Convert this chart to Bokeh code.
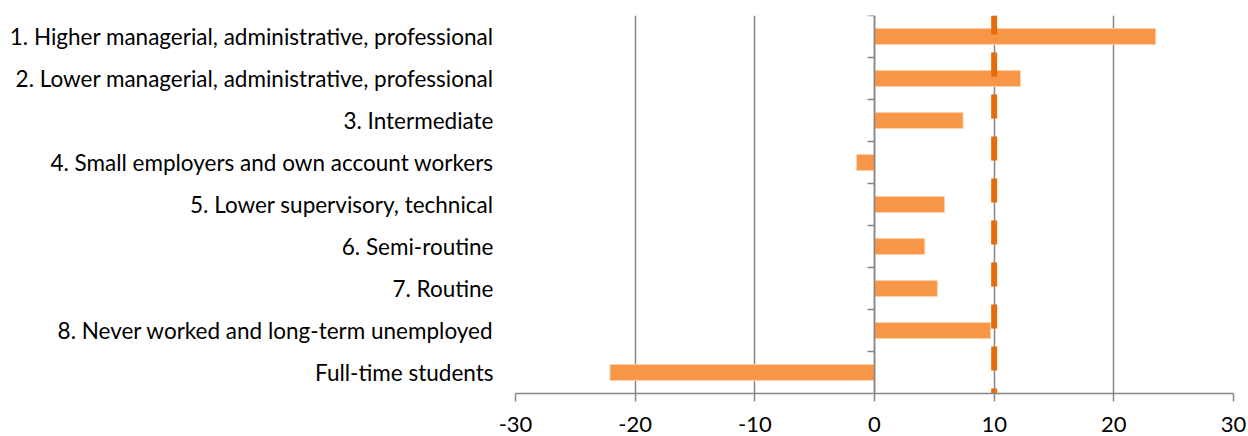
from bokeh.plotting import figure
from bokeh.models import Range1d, FixedTicker, Span
from bokeh.embed import file_html
from bokeh.resources import INLINE

categories = [
    "1. Higher managerial, administrative, professional",
    "2. Lower managerial, administrative, professional",
    "3. Intermediate",
    "4. Small employers and own account workers",
    "5. Lower supervisory, technical",
    "6. Semi-routine",
    "7. Routine",
    "8. Never worked and long-term unemployed",
    "Full-time students",
]
values = [23.5, 12.2, 7.4, -1.5, 5.85, 4.2, 5.25, 9.7, -22.1]
reference_line = 10
x_ticks = [-30, -20, -10, 0, 10, 20, 30]
x_tick_labels = ["-30", "-20", "-10", "0", "10", "20", "30"]

n = len(categories)
ypos = [n - 1 - i for i in range(n)]

FONT = "Lato"
GRAY = "#868686"

W, H = 1248, 436
LEFT, TOP = 515, 15
FRAME_W, FRAME_H = 718, 378

p = figure(width=W, height=H, output_backend="svg", toolbar_location=None,
           x_range=Range1d(x_ticks[0], x_ticks[-1]), y_range=Range1d(-0.5, n - 0.5),
           min_border_left=LEFT, min_border_top=TOP,
           min_border_right=W - LEFT - FRAME_W, min_border_bottom=H - TOP - FRAME_H)
p.outline_line_color = None
p.background_fill_color = "white"

# grid
p.ygrid.grid_line_color = None
p.xgrid.ticker = FixedTicker(ticks=x_ticks)
p.xgrid.grid_line_color = GRAY
p.xgrid.grid_line_width = 1.5

# x axis
p.xaxis.ticker = FixedTicker(ticks=x_ticks)
p.xaxis.major_label_overrides = {t: s for t, s in zip(x_ticks, x_tick_labels)}
p.xaxis.axis_line_color = GRAY
p.xaxis.axis_line_width = 1.5
p.xaxis.major_tick_line_color = GRAY
p.xaxis.major_tick_line_width = 1.5
p.xaxis.major_tick_out = 8
p.xaxis.major_tick_in = 0
p.xaxis.minor_tick_line_color = None
p.xaxis.major_label_standoff = 15
p.xaxis.major_label_text_font = FONT
p.xaxis.major_label_text_font_size = "22px"
p.xaxis.major_label_text_color = "black"

# y axis (category labels)
p.yaxis.ticker = FixedTicker(ticks=ypos)
p.yaxis.major_label_overrides = {y: c for y, c in zip(ypos, categories)}
p.yaxis.axis_line_color = None
p.yaxis.major_tick_line_color = None
p.yaxis.minor_tick_line_color = None
p.yaxis.major_tick_out = 0
p.yaxis.major_tick_in = 0
p.yaxis.major_label_standoff = 22
p.yaxis.major_label_text_font = FONT
p.yaxis.major_label_text_font_size = "22.5px"
p.yaxis.major_label_text_color = "black"

# bars
p.hbar(y=ypos, right=values, left=0, height=0.38,
       fill_color="#F79646", line_color="#FBD0AC", line_width=1)

# zero axis line with category boundary ticks
p.add_layout(Span(location=0, dimension="height", line_color=GRAY, line_width=1.5))
px_per_unit = FRAME_W / (x_ticks[-1] - x_ticks[0])
tick_len = 7 / px_per_unit
bounds = [k + 0.5 for k in range(n)]
p.segment(x0=[0] * len(bounds), x1=[-tick_len] * len(bounds), y0=bounds, y1=bounds,
          line_color=GRAY, line_width=1.5)

# dashed reference line
p.line(x=[reference_line, reference_line], y=[n - 0.5, -0.5], line_color="#E46C0A",
       line_width=6, line_dash="24 18", line_dash_offset=5, line_cap="butt")

open("out.html", "w").write(file_html(p, INLINE))
